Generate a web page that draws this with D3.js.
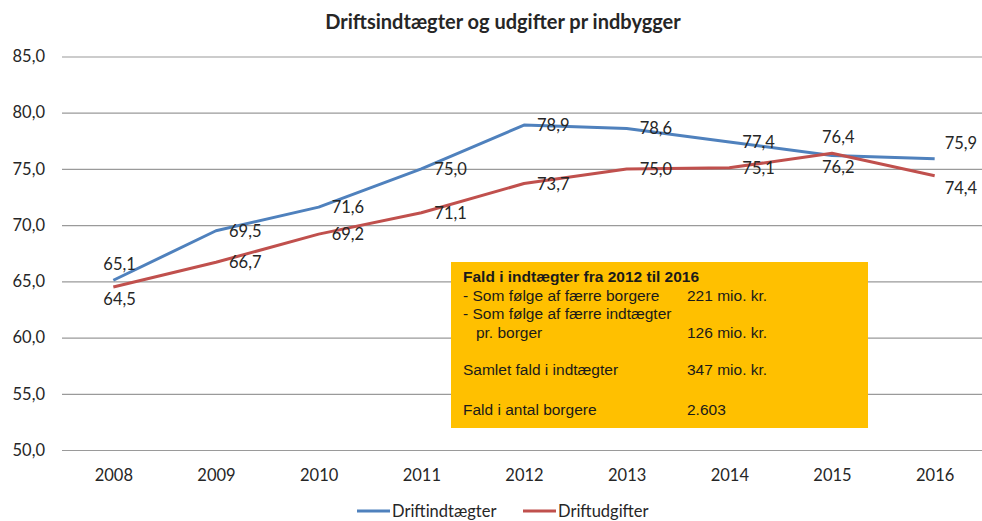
<!DOCTYPE html>
<html>
<head>
<meta charset="utf-8">
<script src="https://cdn.jsdelivr.net/npm/d3@7"></script>
<style>
    body { margin: 0; background: #fff; }
    .chart { width: 982px; height: 521px; }
    text { font-family: Lato, "Open Sans", sans-serif; fill: #262626; }
    .box text { font-family: "Liberation Sans", Arial, sans-serif; font-size: 15.5px; fill: #1a1a1a; }
</style>
</head>
<body>
<div class="chart"></div>
<script>
// data
let years = ["2008", "2009", "2010", "2011", "2012", "2013", "2014", "2015", "2016"];
let indtaegter = [65.1, 69.5, 71.6, 75.0, 78.9, 78.6, 77.4, 76.2, 75.9];
let udgifter = [64.5, 66.7, 69.2, 71.1, 73.7, 75.0, 75.1, 76.4, 74.4];
let yTicks = [50, 55, 60, 65, 70, 75, 80, 85];

// where each data label sits relative to its point
let indtaegterPos = ["above", "right", "right", "right", "right", "right", "right", "below", "aboveRight"];
let udgifterPos = ["below", "right", "right", "right", "right", "right", "right", "above", "belowRight"];

let boxLines = [
    { text: "Fald i indtægter fra 2012 til 2016", value: "", bold: true },
    { text: "- Som følge af færre borgere", value: "221 mio. kr." },
    { text: "- Som følge af færre indtægter", value: "" },
    { text: "   pr. borger", value: "126 mio. kr." },
    { text: "", value: "" },
    { text: "Samlet fald i indtægter", value: "347 mio. kr." },
    { text: "", value: "" },
    { text: "Fald i antal borgere", value: "2.603" }
];

let chart = {};

chart.width = 982;
chart.height = 521;
chart.fontSize = "16.5px";

chart.svg = d3.select(".chart").append("svg")
    .attr("width", chart.width)
    .attr("height", chart.height);

chart.x = d3.scalePoint()
    .domain(years)
    .range([62, 986])
    .padding(0.5);

chart.y = d3.scaleLinear()
    .domain([50, 85])
    .range([450, 56.5]);

let fmt = d => d3.format(".1f")(d).replace(".", ",");

// title
chart.svg.append("text")
    .attr("x", 503)
    .attr("y", 29)
    .attr("text-anchor", "middle")
    .style("font-size", "20px")
    .style("font-weight", "bold")
    .text("Driftsindtægter og udgifter pr indbygger");

// y axis with gridlines
let yAxis = chart.svg.append("g")
    .attr("transform", "translate(62,0)")
    .call(d3.axisLeft(chart.y)
        .tickValues(yTicks)
        .tickSize(-(982 - 62))
        .tickPadding(17)
        .tickFormat(fmt));

yAxis.select(".domain").remove();
yAxis.selectAll(".tick line").attr("stroke", "#9a9a9a").attr("stroke-width", 1.2);
yAxis.selectAll(".tick text")
    .style("font-size", chart.fontSize)
    .style("font-family", "Lato, sans-serif")
    .attr("fill", "#262626");

// x axis
let xAxis = chart.svg.append("g")
    .attr("transform", "translate(0,450)")
    .call(d3.axisBottom(chart.x).tickSize(0).tickPadding(19));

xAxis.select(".domain").remove();
xAxis.selectAll(".tick text")
    .style("font-size", chart.fontSize)
    .style("font-family", "Lato, sans-serif")
    .attr("fill", "#262626");

// yellow note box
let box = chart.svg.append("g").attr("class", "box");

box.append("rect")
    .attr("x", 451)
    .attr("y", 262)
    .attr("width", 417)
    .attr("height", 166)
    .attr("fill", "#FFC000");

let lineY = [282, 301, 319, 338, 0, 375, 0, 415];

boxLines.forEach((d, i) => {
    if (d.text) {
        box.append("text")
            .attr("x", 463)
            .attr("y", lineY[i])
            .attr("xml:space", "preserve")
            .style("font-weight", d.bold ? "bold" : "normal")
            .text(d.text);
    }
    if (d.value) {
        box.append("text")
            .attr("x", 687)
            .attr("y", lineY[i])
            .text(d.value);
    }
});

// lines
let line = d3.line()
    .x((d, i) => chart.x(years[i]))
    .y(d => chart.y(d));

let series = [
    { name: "Driftindtægter", values: indtaegter, pos: indtaegterPos, color: "#4F81BD" },
    { name: "Driftudgifter", values: udgifter, pos: udgifterPos, color: "#C0504D" }
];

series.forEach(s => {
    chart.svg.append("path")
        .datum(s.values)
        .attr("fill", "none")
        .attr("stroke", s.color)
        .attr("stroke-width", 3)
        .attr("stroke-linejoin", "round")
        .attr("d", line);
});

// data labels
series.forEach(s => {
    chart.svg.append("g")
        .selectAll("text")
        .data(s.values)
        .join("text")
        .style("font-size", chart.fontSize)
        .attr("fill", "#262626")
        .attr("x", (d, i) => {
            let px = chart.x(years[i]);
            let p = s.pos[i];
            if (p === "right") return px + 13;
            if (p === "aboveRight" || p === "belowRight") return px + 10;
            return px - 10;
        })
        .attr("y", (d, i) => {
            let py = chart.y(d);
            let p = s.pos[i];
            if (p === "right") return py + 6;
            if (p === "above" || p === "aboveRight") return py - 10;
            return py + 18;
        })
        .text(d => fmt(d));
});

// legend
let legend = chart.svg.append("g").attr("transform", "translate(357,511)");
let legendX = [0, 166];

series.forEach((s, i) => {
    let g = legend.append("g").attr("transform", `translate(${legendX[i]},0)`);
    g.append("line")
        .attr("x1", 0).attr("x2", 33)
        .attr("stroke", s.color)
        .attr("stroke-width", 3);
    g.append("text")
        .attr("x", 35)
        .attr("y", 6)
        .style("font-size", chart.fontSize)
        .text(s.name);
});
</script>
</body>
</html>
